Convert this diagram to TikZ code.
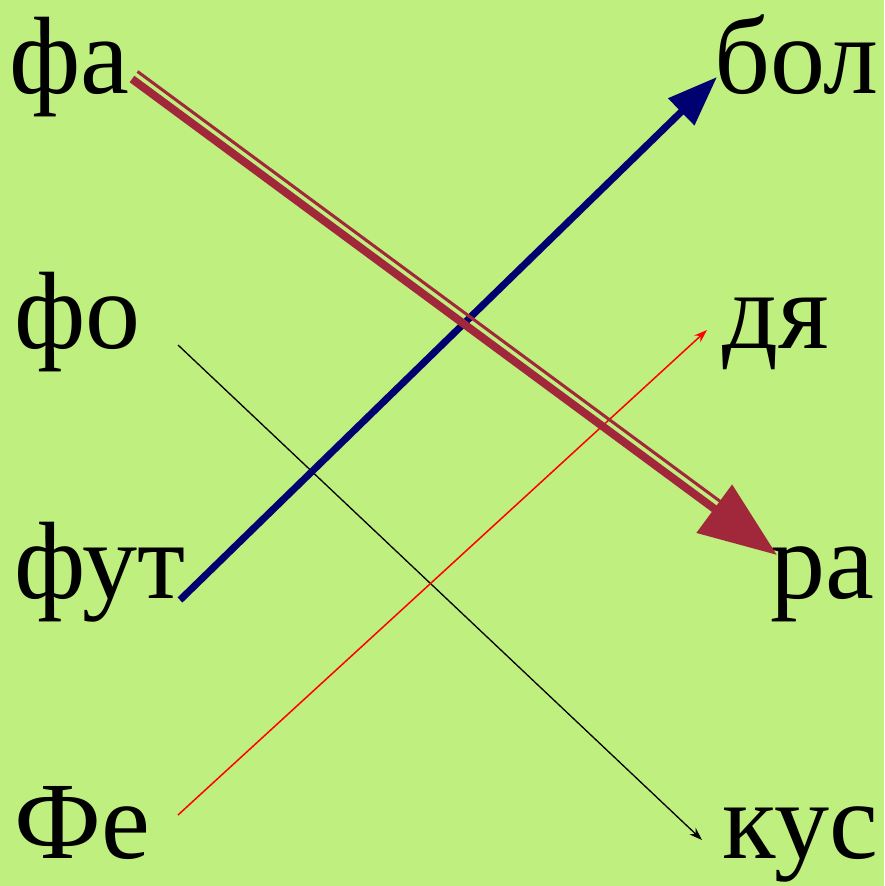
\documentclass[tikz,border=0pt]{standalone}
\usepackage{fontspec}
\setmainfont{Liberation Serif}
\usetikzlibrary{arrows.meta}
\definecolor{bg}{HTML}{BFEF7E}
\definecolor{wine}{HTML}{A0283A}
\definecolor{navy}{HTML}{000070}
\tikzset{
  word/.style={anchor=base west, inner sep=0pt, font=\fontsize{110}{120}\selectfont, text=black},
  thinred/.style={draw=red, line width=1.5pt, -{Stealth[length=13pt,width=9pt]}},
  thinblack/.style={draw=black, line width=1.3pt, -{Stealth[length=13pt,width=9pt]}},
  navyarrow/.style={draw=navy, line width=7pt, -{Triangle[length=50pt,width=36pt]}},
  winearrow/.style={draw=wine, line width=8pt, -{Triangle[length=78pt,width=58pt]}},
  winethin/.style={draw=wine, line width=3pt},
}
\begin{document}
\begin{tikzpicture}[x=1pt,y=-1pt]
\fill[bg] (0,0) rectangle (884,886);
\useasboundingbox (0,0) rectangle (884,886);
% words
\node[word] (fa)  at (9,93)  {фа};
\node[word] (bol) at (714,93) {бол};
\node[word] (fo)  at (14,348) {фо};
\node[word] (dya) at (722,348) {дя};
\node[word] (fut) at (14,598) {фут};
\node[word] (ra)  at (770,598) {ра};
\node[word] (Fe)  at (14,858) {Фе};
\node[word] (kus) at (722,858) {кус};
% endpoints
\coordinate (faS) at (132,79);
\coordinate (raE) at (777,555);
\coordinate (faT) at (137.5,71.5);
\coordinate (raT) at (721,502);
\coordinate (futS) at (180,600);
\coordinate (bolE) at (717,77);
\coordinate (FeS) at (178,815);
\coordinate (dyaE) at (707,330);
\coordinate (foS) at (178,345);
\coordinate (kusE) at (702,840);
% connectors
\draw[thinblack] (foS) -- (kusE);
\draw[thinred] (FeS) -- (dyaE);
\draw[navyarrow] (futS) -- (bolE);
\draw[winethin] (faT) -- (raT);
\draw[winearrow] (faS) -- (raE);
\end{tikzpicture}
\end{document}
